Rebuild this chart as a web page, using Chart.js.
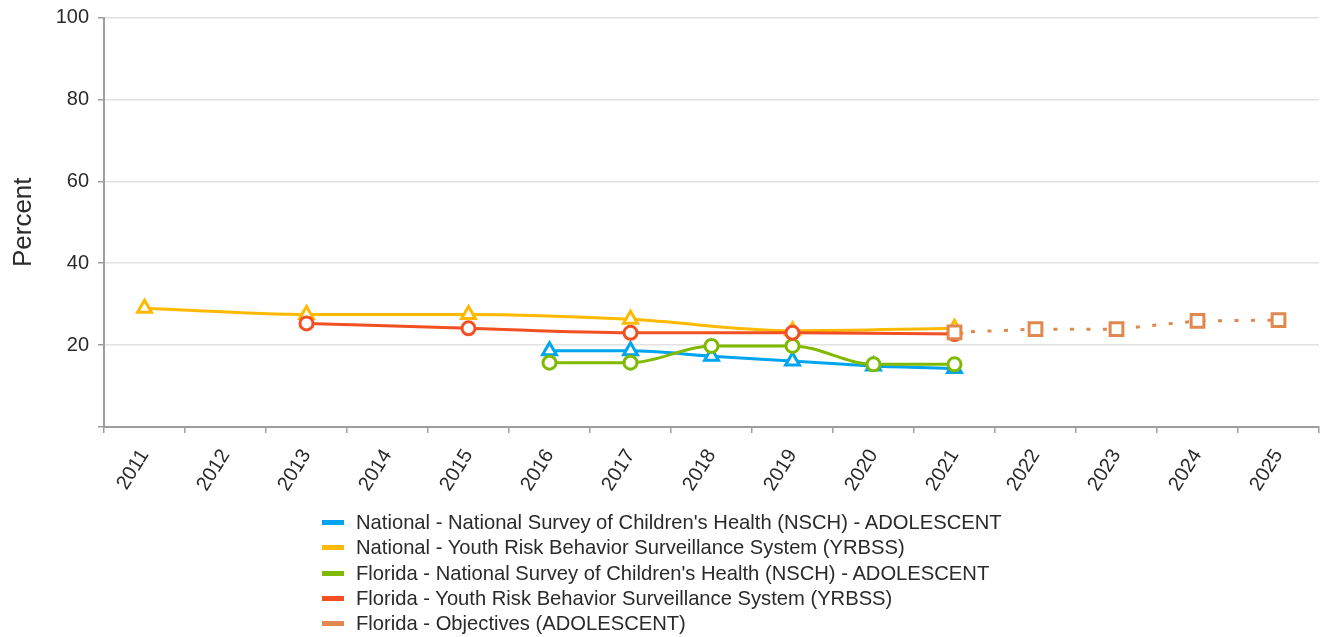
<!DOCTYPE html>
<html>
<head>
<meta charset="utf-8">
<script src="https://cdn.jsdelivr.net/npm/chart.js@4/dist/chart.umd.min.js"></script>
<style>
  html, body { margin: 0; padding: 0; background: #fff; }
  #wrap { position: relative; width: 1320px; height: 637px; }
  #legend { position: absolute; left: 322px; top: 510px; font-family: "Liberation Sans", Arial, sans-serif; font-size: 20.2px; color: #2a2a2a; }
  #legend .row { display: flex; align-items: center; height: 25.3px; white-space: nowrap; }
  #legend .sw { width: 22px; height: 5px; margin-right: 12px; }
</style>
</head>
<body>
<div id="wrap">
  <canvas id="chart" width="1320" height="637"></canvas>
  <div id="legend"></div>
</div>
<script>
const years = ['2011','2012','2013','2014','2015','2016','2017','2018','2019','2020','2021','2022','2023','2024','2025'];

const nationalNsch  = [null, null, null, null, null, 18.6, 18.6, 17.3, 16.1, 14.9, 14.3, null, null, null, null];
const nationalYrbss = [29.0, null, 27.5, null, 27.5, null, 26.3, null, 23.5, null, 24.1, null, null, null, null];
const floridaNsch   = [null, null, null, null, null, 15.7, 15.7, 19.8, 19.8, 15.3, 15.3, null, null, null, null];
const floridaYrbss  = [null, null, 25.3, null, 24.1, null, 23.0, null, 23.0, null, 22.7, null, null, null, null];
const objectives    = [null, null, null, null, null, null, null, null, null, null, 23.1, 23.9, 23.9, 25.9, 26.1];

const yTicks = [20, 40, 60, 80, 100];

const seriesNames = [
  "National - National Survey of Children's Health (NSCH) - ADOLESCENT",
  "National - Youth Risk Behavior Surveillance System (YRBSS)",
  "Florida - National Survey of Children's Health (NSCH) - ADOLESCENT",
  "Florida - Youth Risk Behavior Surveillance System (YRBSS)",
  "Florida - Objectives (ADOLESCENT)"
];
const seriesColors = ['#00A4EF', '#FFB900', '#7FBA00', '#F25022', '#E0884F'];

const FONT = '"Liberation Sans", Arial, sans-serif';

function lineSet(idx, data, style, radius, extra) {
  return Object.assign({
    label: seriesNames[idx],
    data: data,
    borderColor: seriesColors[idx],
    backgroundColor: '#ffffff',
    pointBackgroundColor: '#ffffff',
    pointBorderColor: seriesColors[idx],
    pointStyle: style,
    pointRadius: radius,
    pointBorderWidth: 3,
    borderWidth: 3,
    spanGaps: true,
    cubicInterpolationMode: 'monotone',
    order: 5 - idx
  }, extra || {});
}

const datasets = [
  lineSet(0, nationalNsch, 'triangle', 8),
  lineSet(1, nationalYrbss, 'triangle', 8),
  lineSet(2, floridaNsch, 'circle', 6.5),
  lineSet(3, floridaYrbss, 'circle', 6.5),
  lineSet(4, objectives, 'rect', 9, { borderDash: [4, 12.5], cubicInterpolationMode: 'default', tension: 0 })
];

const chart = new Chart(document.getElementById('chart'), {
  type: 'line',
  data: { labels: years, datasets: datasets },
  options: {
    responsive: false,
    animation: false,
    events: [],
    layout: { autoPadding: false, padding: { top: 17.5, right: 1, left: 0, bottom: 0 } },
    plugins: { legend: { display: false }, tooltip: { enabled: false } },
    scales: {
      x: {
        offset: true,
        grid: { offset: true, drawOnChartArea: false, drawTicks: true, tickLength: 6, color: '#9e9e9e', lineWidth: 1.5 },
        border: { color: '#9e9e9e', width: 2 },
        ticks: { minRotation: 58, maxRotation: 58, autoSkip: false, color: '#2a2a2a', font: { family: FONT, size: 20 }, padding: 12 },
        afterFit: s => { s.height = 210; s.paddingLeft = 0; s.paddingRight = 0; }
      },
      y: {
        min: 0, max: 100,
        afterBuildTicks: s => { s.ticks = [0].concat(yTicks).map(v => ({ value: v })); },
        grid: { color: '#e2e2e2', lineWidth: 1.5, tickLength: 6, tickColor: '#9e9e9e' },
        border: { color: '#9e9e9e', width: 2 },
        ticks: { color: '#2a2a2a', font: { family: FONT, size: 20 }, padding: 9, callback: v => (v === 0 ? '' : String(v)) },
        title: { display: true, text: 'Percent', color: '#2a2a2a', font: { family: FONT, size: 26 }, padding: { top: 8, bottom: 0 } },
        afterFit: s => { s.width = 104; s.paddingTop = 0; s.paddingBottom = 0; }
      }
    }
  }
});

// Legend rows built from the datasets
const legendEl = document.getElementById('legend');
datasets.forEach(ds => {
  const row = document.createElement('div');
  row.className = 'row';
  const sw = document.createElement('span');
  sw.className = 'sw';
  sw.style.background = ds.borderColor;
  const tx = document.createElement('span');
  tx.textContent = ds.label;
  row.appendChild(sw);
  row.appendChild(tx);
  legendEl.appendChild(row);
});
</script>
</body>
</html>
